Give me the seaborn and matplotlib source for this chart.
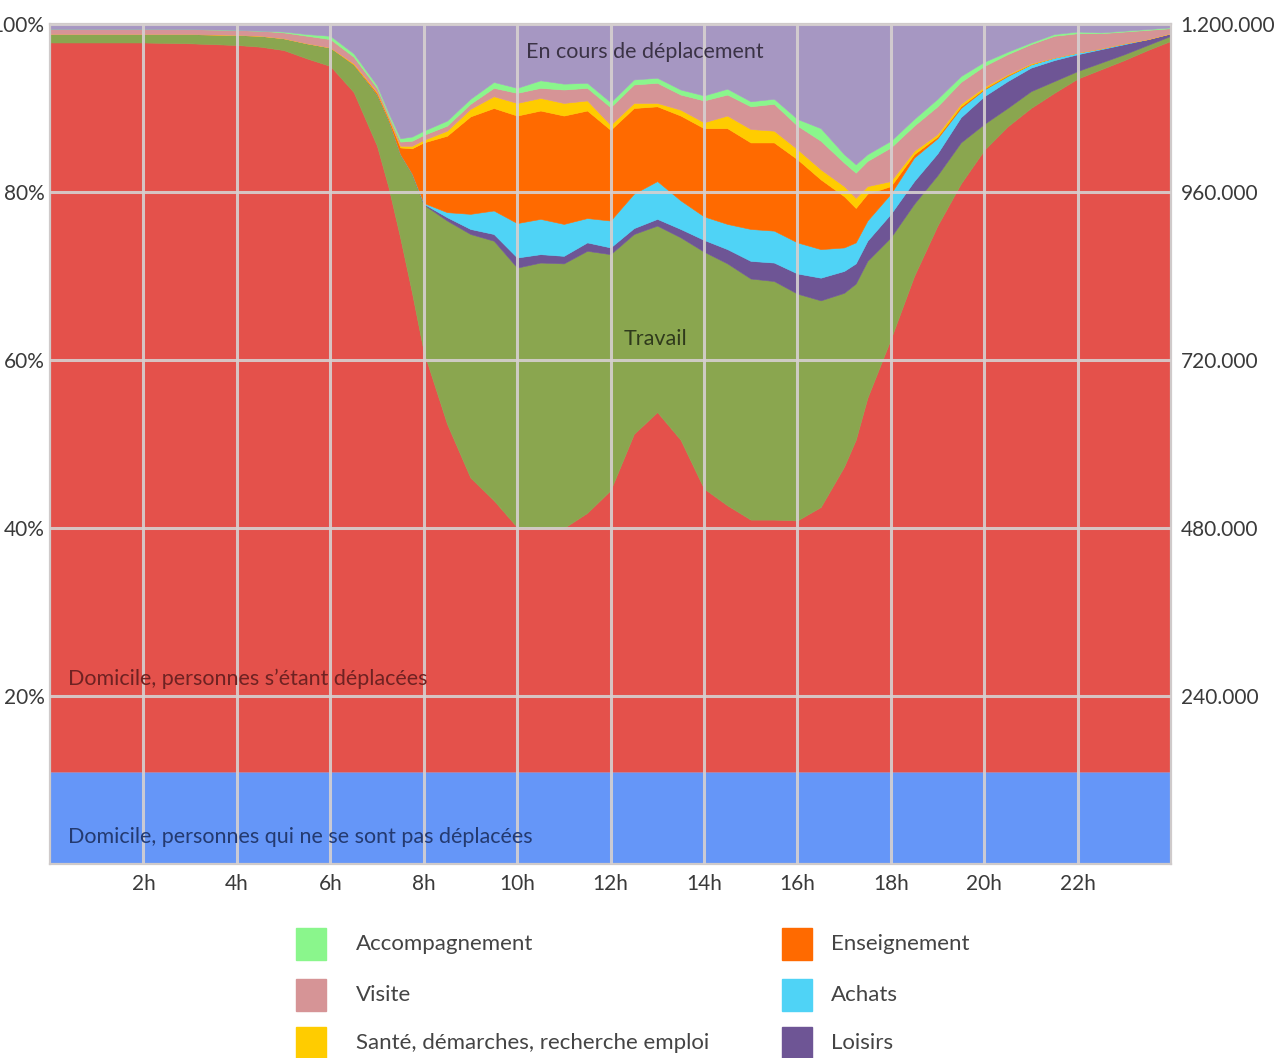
import matplotlib
matplotlib.use('Agg')
import matplotlib.pyplot as plt
from matplotlib.patches import Rectangle
import seaborn as sns

# heures (axe x) et parts de la population (%) par lieu / motif
hours = [0, 1, 2, 3, 4, 4.5, 5, 5.5, 6, 6.5, 7, 7.25, 7.5, 7.75, 8, 8.5, 9, 9.5, 10, 10.5,
         11, 11.5, 12, 12.5, 13, 13.5, 14, 14.5, 15, 15.5, 16, 16.5, 17, 17.25, 17.5, 18,
         18.5, 19, 19.5, 20, 20.5, 21, 21.5, 22, 22.5, 23, 23.5, 24]

pas_deplacees = [11.0] * len(hours)
domicile = [86.8, 86.8, 86.8, 86.7, 86.5, 86.3, 85.9, 84.9, 84.0, 80.9, 74.5, 69.5, 63.5, 57.0,
            50.0, 41.4, 35.0, 32.3, 29.1, 29.0, 29.0, 30.8, 33.5, 40.2, 42.8, 39.5, 33.7, 31.7,
            30.0, 30.0, 29.9, 31.5, 36.3, 39.5, 44.5, 51.5, 59.0, 65.0, 70.0, 74.0, 76.8, 79.0,
            80.8, 82.5, 83.6, 84.7, 85.9, 87.0]
travail = [1.0, 1.0, 1.0, 1.1, 1.2, 1.3, 1.4, 1.8, 2.2, 3.3, 6.1, 8.0, 10.0, 14.2, 17.5, 24.2,
           29.0, 30.9, 30.9, 31.6, 31.5, 31.2, 28.1, 23.8, 22.2, 24.1, 28.2, 28.8, 28.7, 28.4,
           27.0, 24.6, 20.7, 18.6, 16.3, 12.1, 8.6, 6.0, 4.9, 3.1, 2.2, 2.0, 1.4, 0.9, 0.8, 0.7,
           0.6, 0.6]
loisirs = [0, 0, 0, 0, 0, 0, 0, 0, 0, 0, 0, 0, 0, 0, 0.1, 0.4, 0.6, 0.8, 1.2, 1.0, 0.9, 1.0,
           0.8, 0.7, 0.8, 1.0, 1.4, 1.7, 2.1, 2.2, 2.4, 2.7, 2.6, 2.4, 2.4, 2.8, 2.7, 2.6, 3.0,
           3.3, 3.2, 2.8, 2.5, 2.0, 1.6, 1.2, 0.7, 0.3]
achats = [0, 0, 0, 0, 0, 0, 0, 0, 0, 0, 0, 0, 0, 0, 0.1, 0.6, 1.8, 2.8, 4.1, 4.2, 3.8, 2.9, 3.2,
          4.1, 4.5, 3.4, 2.8, 3.0, 3.8, 3.8, 3.7, 3.4, 2.8, 2.5, 2.4, 2.4, 2.8, 1.8, 1.1, 0.8,
          0.6, 0.4, 0.3, 0.2, 0.1, 0.1, 0, 0]
enseignement = [0, 0, 0, 0, 0, 0, 0, 0, 0, 0, 0.2, 0.2, 0.8, 3.0, 7.2, 9.1, 11.6, 12.2, 12.8,
                12.9, 12.9, 12.8, 10.8, 10.2, 8.9, 10.1, 10.5, 11.4, 10.3, 10.5, 9.9, 8.3, 6.1,
                4.1, 3.2, 0.9, 0.4, 0.2, 0.2, 0.1, 0.1, 0, 0, 0, 0, 0, 0, 0]
sante = [0, 0, 0, 0, 0, 0, 0, 0, 0, 0.1, 0.1, 0.1, 0.2, 0.3, 0.3, 0.6, 0.9, 1.4, 1.5, 1.5, 1.5,
         1.2, 0.6, 0.6, 0.4, 0.7, 0.7, 1.5, 1.6, 1.4, 1.2, 1.2, 1.2, 1.2, 0.9, 0.6, 0.4, 0.3,
         0.3, 0.2, 0.1, 0.1, 0, 0, 0, 0, 0, 0]
visite = [0.6, 0.6, 0.6, 0.6, 0.6, 0.6, 0.7, 0.9, 1.0, 0.8, 0.5, 0.3, 0.5, 0.6, 0.6, 0.6, 0.6,
          1.0, 1.2, 1.2, 1.6, 1.5, 2.1, 2.2, 2.4, 1.8, 2.6, 2.5, 2.7, 3.2, 2.8, 3.4, 2.8, 3.0,
          3.0, 4.0, 3.0, 3.3, 2.6, 2.5, 2.4, 2.3, 2.6, 2.3, 1.8, 1.4, 1.1, 0.6]
accompagnement = [0, 0, 0, 0, 0, 0, 0.1, 0.2, 0.4, 0.4, 0.3, 0.3, 0.4, 0.5, 0.5, 0.6, 0.6, 0.7,
                  0.6, 0.9, 0.7, 0.6, 0.6, 0.6, 0.6, 0.6, 0.6, 0.7, 0.6, 0.6, 0.8, 1.5, 1.0, 1.0,
                  0.8, 0.8, 0.8, 0.9, 0.7, 0.5, 0.3, 0.2, 0.2, 0.2, 0.1, 0.1, 0.1, 0.1]
deplacement = [0.6, 0.6, 0.6, 0.6, 0.7, 0.8, 0.9, 1.2, 1.4, 3.5, 7.3, 10.6, 13.6, 13.4, 12.7,
               11.5, 8.9, 6.9, 7.6, 6.7, 7.1, 7.0, 9.3, 6.6, 6.4, 7.8, 8.5, 7.7, 9.2, 8.9, 11.3,
               12.4, 15.5, 16.7, 15.5, 13.9, 11.3, 8.9, 6.2, 4.5, 3.3, 2.2, 1.2, 0.9, 1.0, 0.8,
               0.6, 0.4]

colors = {
    'pas': '#6596f8', 'dom': '#e4514b', 'trav': '#8aa64f', 'lois': '#6e5595',
    'ach': '#4fd3f6', 'ens': '#ff6a00', 'sante': '#ffcc00', 'vis': '#d69496',
    'acc': '#8af68c', 'dep': '#a697c2',
}

x_ticks = [2, 4, 6, 8, 10, 12, 14, 16, 18, 20, 22]
y_ticks = [20, 40, 60, 80, 100]
right_ticks = [240000, 480000, 720000, 960000, 1200000]

legend_col1 = ['Accompagnement', 'Visite', 'Santé, démarches, recherche emploi']
legend_col2 = ['Enseignement', 'Achats', 'Loisirs']
legend_col1_colors = [colors['acc'], colors['vis'], colors['sante']]
legend_col2_colors = [colors['ens'], colors['ach'], colors['lois']]

sns.set_theme(style='white')
plt.rcParams['font.family'] = ['Lato', 'DejaVu Sans']

W, H = 1279, 1058
fig = plt.figure(figsize=(W / 100, H / 100), dpi=100)
ax = fig.add_axes([50 / W, 1 - 864 / H, 1121 / W, 840 / H])

series = [pas_deplacees, domicile, travail, loisirs, achats, enseignement, sante, visite,
          accompagnement, deplacement]
cols = [colors[k] for k in ['pas', 'dom', 'trav', 'lois', 'ach', 'ens', 'sante', 'vis', 'acc', 'dep']]
polys = ax.stackplot(hours, *series, colors=cols)
for p, c in zip(polys, cols):
    p.set_edgecolor(c)
    p.set_linewidth(0.4)

ax.set_xlim(0, 24)
ax.set_ylim(0, 100)
ax.set_xticks(x_ticks)
ax.set_xticklabels([f'{h}h' for h in x_ticks])
ax.set_yticks(y_ticks)
ax.set_yticklabels([f'{v}%' for v in y_ticks])
ax.tick_params(length=0, labelsize=15, labelcolor='#3a3a3a')
ax.tick_params(axis='x', pad=7)
ax.tick_params(axis='y', pad=4)

ax.set_axisbelow(False)
ax.grid(True, color='#d6d0d0', lw=2.2, alpha=0.9)
for s in ax.spines.values():
    s.set_visible(True)
    s.set_color('#cfcaca')
    s.set_linewidth(1.6)

ax2 = ax.twinx()
ax2.set_ylim(0, 1200000)
ax2.set_yticks(right_ticks)
ax2.set_yticklabels([f'{v:,}'.replace(',', '.') for v in right_ticks])
ax2.tick_params(length=0, labelsize=15, labelcolor='#3a3a3a', pad=7)
ax2.grid(False)
for s in ax2.spines.values():
    s.set_visible(False)

ax.text(12.73, 96.7, 'En cours de déplacement', ha='center', va='center',
        fontsize=15.5, color='#3b3346')
ax.text(12.96, 62.5, 'Travail', ha='center', va='center', fontsize=15.5, color='#2f3a1c')
ax.text(0.39, 22.1, 'Domicile, personnes s’étant déplacées', ha='left', va='center',
        fontsize=15.5, color='#6e2222')
ax.text(0.39, 3.2, 'Domicile, personnes qui ne se sont pas déplacées', ha='left', va='center',
        fontsize=15.5, color='#243a70')

# légende dessinée à la main, deux colonnes
rows_y = [944, 995, 1043]
for names, cl, px, tx in [(legend_col1, legend_col1_colors, 296, 356),
                          (legend_col2, legend_col2_colors, 782, 831)]:
    for name, c, yc in zip(names, cl, rows_y):
        fig.add_artist(Rectangle((px / W, 1 - (yc + 16) / H), 30 / W, 32 / H,
                                 transform=fig.transFigure, color=c))
        fig.text(tx / W, 1 - yc / H, name, ha='left', va='center', fontsize=16,
                 color='#444444')

fig.savefig('out.png', dpi=100)
